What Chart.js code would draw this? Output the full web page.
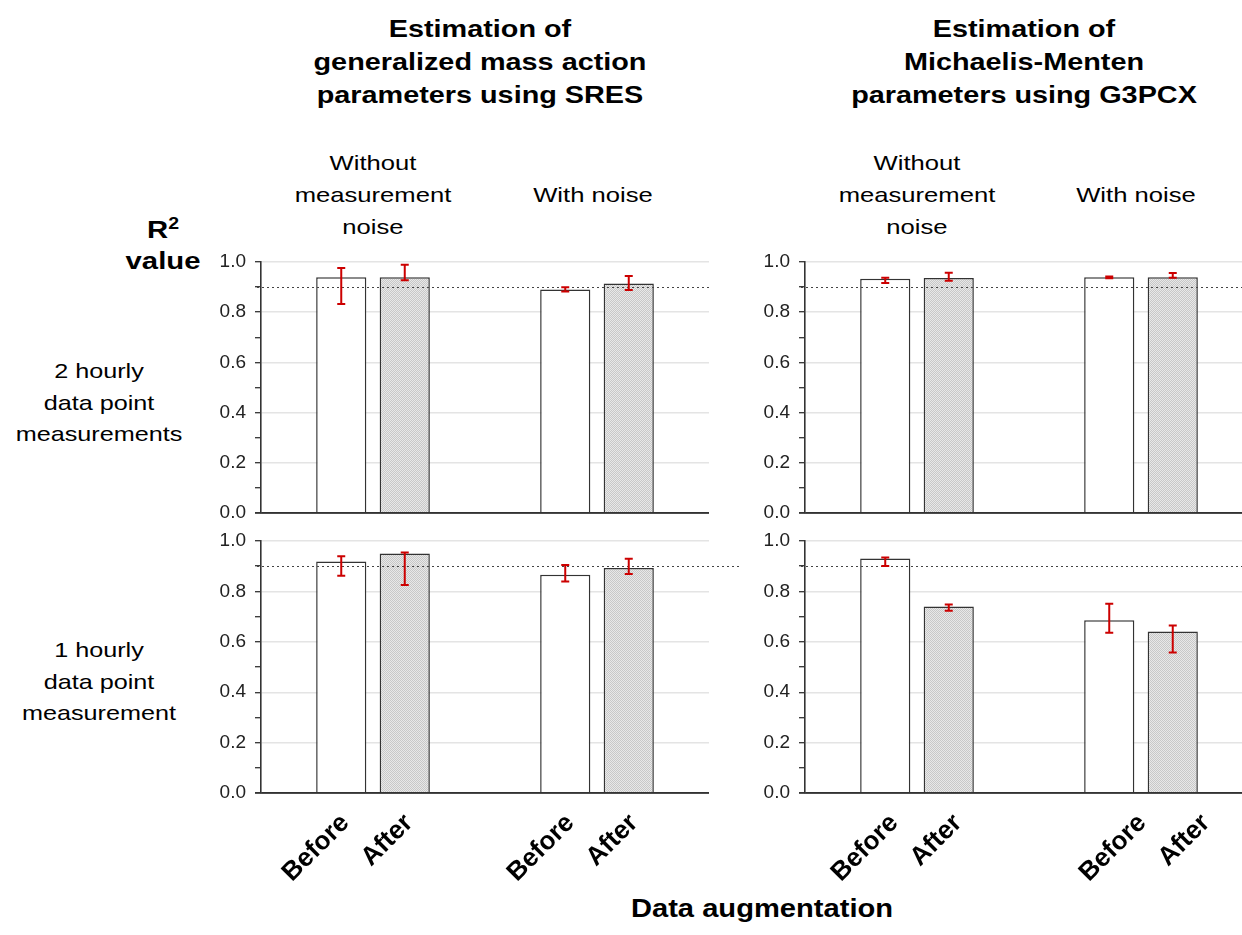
<!DOCTYPE html>
<html>
<head>
<meta charset="utf-8">
<script src="https://cdn.jsdelivr.net/npm/chart.js@4/dist/chart.umd.min.js"></script>
<style>
  html, body { margin: 0; padding: 0; overflow: hidden; background: #fff; }
  body { width: 1242px; height: 935px; position: relative; font-family: "Liberation Sans", Arial, sans-serif; color: #000; }
  canvas { position: absolute; }
  .txt { position: absolute; text-align: center; transform-origin: center top; white-space: nowrap; }
  .title { font-weight: bold; font-size: 24px; line-height: 33px; width: 500px; transform: scaleX(1.2); }
  .sub { font-size: 21px; line-height: 32px; width: 240px; transform: scaleX(1.22); }
  .row { font-size: 21px; line-height: 31.5px; width: 200px; transform: scaleX(1.2); }
</style>
</head>
<body>
<div class="txt title" style="left:230px; top:12px;">Estimation of<br>generalized mass action<br>parameters using SRES</div>
<div class="txt title" style="left:774px; top:12px;">Estimation of<br>Michaelis-Menten<br>parameters using G3PCX</div>

<div class="txt sub" style="left:253px; top:147px;">Without<br>measurement<br>noise</div>
<div class="txt sub" style="left:473px; top:179px;">With noise</div>
<div class="txt sub" style="left:797px; top:147px;">Without<br>measurement<br>noise</div>
<div class="txt sub" style="left:1016px; top:179px;">With noise</div>

<div class="txt" style="left:113px; top:216px; width:100px; font-weight:bold; font-size:24px; line-height:28px; transform:scaleX(1.22);">R<span style="font-size:16px; position:relative; top:-9px;">2</span><br>value</div>

<div class="txt row" style="left:-1px; top:355px;">2 hourly<br>data point<br>measurements</div>
<div class="txt row" style="left:-1px; top:634px;">1 hourly<br>data point<br>measurement</div>

<div class="txt" style="left:512px; top:893px; width:500px; font-weight:bold; font-size:26px; line-height:30px; transform:scaleX(1.12);">Data augmentation</div>

<canvas id="c1" width="549" height="301" style="left:200px; top:237px;"></canvas>
<canvas id="c2" width="519" height="301" style="left:744px; top:237px;"></canvas>
<canvas id="c3" width="549" height="377" style="left:200px; top:516px;"></canvas>
<canvas id="c4" width="519" height="377" style="left:744px; top:516px;"></canvas>

<script>
// categories and bar labels
const groups = ['Without measurement noise', 'With noise']
const barLabels = ['Before', 'After']
const tickLabels = ['0.0', '0.2', '0.4', '0.6', '0.8', '1.0']
const threshold = 0.9

// SRES (mass action), 2 hourly
const sres2Before = [0.939, 0.890]
const sres2BeforeErr = [[0.833, 0.976], [0.882, 0.899]]
const sres2After = [0.939, 0.914]
const sres2AfterErr = [[0.927, 0.989], [0.888, 0.944]]

// G3PCX (Michaelis-Menten), 2 hourly
const g3pcx2Before = [0.933, 0.939]
const g3pcx2BeforeErr = [[0.916, 0.937], [0.935, 0.942]]
const g3pcx2After = [0.936, 0.939]
const g3pcx2AfterErr = [[0.925, 0.957], [0.937, 0.956]]

// SRES (mass action), 1 hourly
const sres1Before = [0.919, 0.866]
const sres1BeforeErr = [[0.862, 0.939], [0.839, 0.905]]
const sres1After = [0.950, 0.893]
const sres1AfterErr = [[0.825, 0.954], [0.869, 0.930]]

// G3PCX (Michaelis-Menten), 1 hourly
const g3pcx1Before = [0.931, 0.686]
const g3pcx1BeforeErr = [[0.901, 0.935], [0.636, 0.751]]
const g3pcx1After = [0.740, 0.641]
const g3pcx1AfterErr = [[0.723, 0.748], [0.558, 0.665]]

const FONT = '"Liberation Sans", Arial, sans-serif'

// fine grey checker used for the "After" bars
function hatch() {
  const pc = document.createElement('canvas')
  pc.width = 4; pc.height = 4
  const g = pc.getContext('2d')
  g.fillStyle = '#e8e8e8'; g.fillRect(0, 0, 4, 4)
  g.fillStyle = '#c8c8c8'
  for (let y = 0; y < 4; y++) for (let x = 0; x < 4; x++) if ((x + y) % 2 === 0) g.fillRect(x, y, 1, 1)
  return g.createPattern(pc, 'repeat')
}
const hatchFill = hatch()

const tenth = v => Math.round(v * 10)

const panelPlugin = {
  id: 'panelExtras',
  afterDatasetsDraw(chart) {
    const { ctx, chartArea: a, scales: { y } } = chart
    const o = chart.options.plugins.panelExtras
    // dotted reference line
    ctx.save()
    ctx.strokeStyle = '#444'
    ctx.lineWidth = 1.2
    ctx.setLineDash([2, 3])
    ctx.beginPath()
    const yr = Math.round(y.getPixelForValue(threshold)) + 0.5
    ctx.moveTo(a.left - 4, yr)
    ctx.lineTo(a.right + (o.lineExtend || 0), yr)
    ctx.stroke()
    ctx.restore()

    // axis line at zero, on top of bar bottoms
    ctx.save()
    ctx.strokeStyle = '#333'
    ctx.lineWidth = 1.6
    ctx.beginPath()
    ctx.moveTo(a.left - 6, y.getPixelForValue(0))
    ctx.lineTo(a.right, y.getPixelForValue(0))
    ctx.stroke()
    ctx.restore()

    // red error bars
    ctx.save()
    ctx.strokeStyle = '#cc0000'
    ctx.lineWidth = 2
    chart.data.datasets.forEach((ds, di) => {
      chart.getDatasetMeta(di).data.forEach((bar, i) => {
        const [lo, hi] = ds.errorRange[i]
        const y1 = y.getPixelForValue(lo), y2 = y.getPixelForValue(hi)
        ctx.beginPath()
        ctx.moveTo(bar.x, y1); ctx.lineTo(bar.x, y2)
        ctx.moveTo(bar.x - 4, y1); ctx.lineTo(bar.x + 4, y1)
        ctx.moveTo(bar.x - 4, y2); ctx.lineTo(bar.x + 4, y2)
        ctx.stroke()
      })
    })
    ctx.restore()

    // rotated Before / After labels under the bottom row
    if (o.labels) {
      ctx.save()
      ctx.font = 'bold 26px ' + FONT
      ctx.fillStyle = '#000'
      ctx.textAlign = 'right'
      ctx.textBaseline = 'middle'
      chart.data.datasets.forEach((ds, di) => {
        chart.getDatasetMeta(di).data.forEach((bar, i) => {
          ctx.save()
          ctx.translate(bar.x + o.labelShift[i], a.bottom + 26)
          ctx.rotate(-Math.PI / 4)
          ctx.fillText(ds.label, 0, 0)
          ctx.restore()
        })
      })
      ctx.restore()
    }
  }
}

function makeChart(id, before, beforeErr, after, afterErr, extras) {
  return new Chart(document.getElementById(id), {
    type: 'bar',
    data: {
      labels: groups,
      datasets: [
        { label: barLabels[0], data: before, errorRange: beforeErr,
          backgroundColor: '#fff', borderColor: '#333', borderWidth: 1.5 },
        { label: barLabels[1], data: after, errorRange: afterErr,
          backgroundColor: hatchFill, borderColor: '#333', borderWidth: 1.5 }
      ]
    },
    options: {
      responsive: false,
      animation: false,
      categoryPercentage: 0.567,
      barPercentage: 0.79,
      layout: { padding: extras.padding },
      plugins: {
        legend: { display: false },
        tooltip: { enabled: false },
        panelExtras: extras
      },
      scales: {
        x: { display: false },
        y: {
          min: 0,
          max: 1,
          afterFit: s => { s.width = 61 },
          border: { color: '#333', width: 1.6 },
          grid: {
            color: c => {
              if (!c.tick) return 'rgba(0,0,0,0)'
              const t = tenth(c.tick.value)
              if (t === 0) return '#333'
              return t % 2 === 0 ? '#e4e4e4' : 'rgba(0,0,0,0)'
            },
            lineWidth: 1.4,
            drawTicks: true,
            tickLength: 6,
            tickColor: '#333',
            tickWidth: 1.3
          },
          ticks: {
            stepSize: 0.1,
            autoSkip: false,
            padding: 9,
            color: '#222',
            font: { family: FONT, size: 19 },
            callback: v => (tenth(v) % 2 === 0 ? tickLabels[tenth(v) / 2] : '')
          }
        }
      }
    },
    plugins: [panelPlugin]
  })
}

makeChart('c1', sres2Before, sres2BeforeErr, sres2After, sres2AfterErr,
  { padding: { left: 0, right: 40, top: 25, bottom: 25 } })
makeChart('c2', g3pcx2Before, g3pcx2BeforeErr, g3pcx2After, g3pcx2AfterErr,
  { padding: { left: 0, right: 10, top: 25, bottom: 25 } })
makeChart('c3', sres1Before, sres1BeforeErr, sres1After, sres1AfterErr,
  { padding: { left: 0, right: 40, top: 25, bottom: 100 }, lineExtend: 33, labels: true, labelShift: [4, 5] })
makeChart('c4', g3pcx1Before, g3pcx1BeforeErr, g3pcx1After, g3pcx1AfterErr,
  { padding: { left: 0, right: 10, top: 25, bottom: 100 }, labels: true, labelShift: [9, 33] })
</script>
</body>
</html>
